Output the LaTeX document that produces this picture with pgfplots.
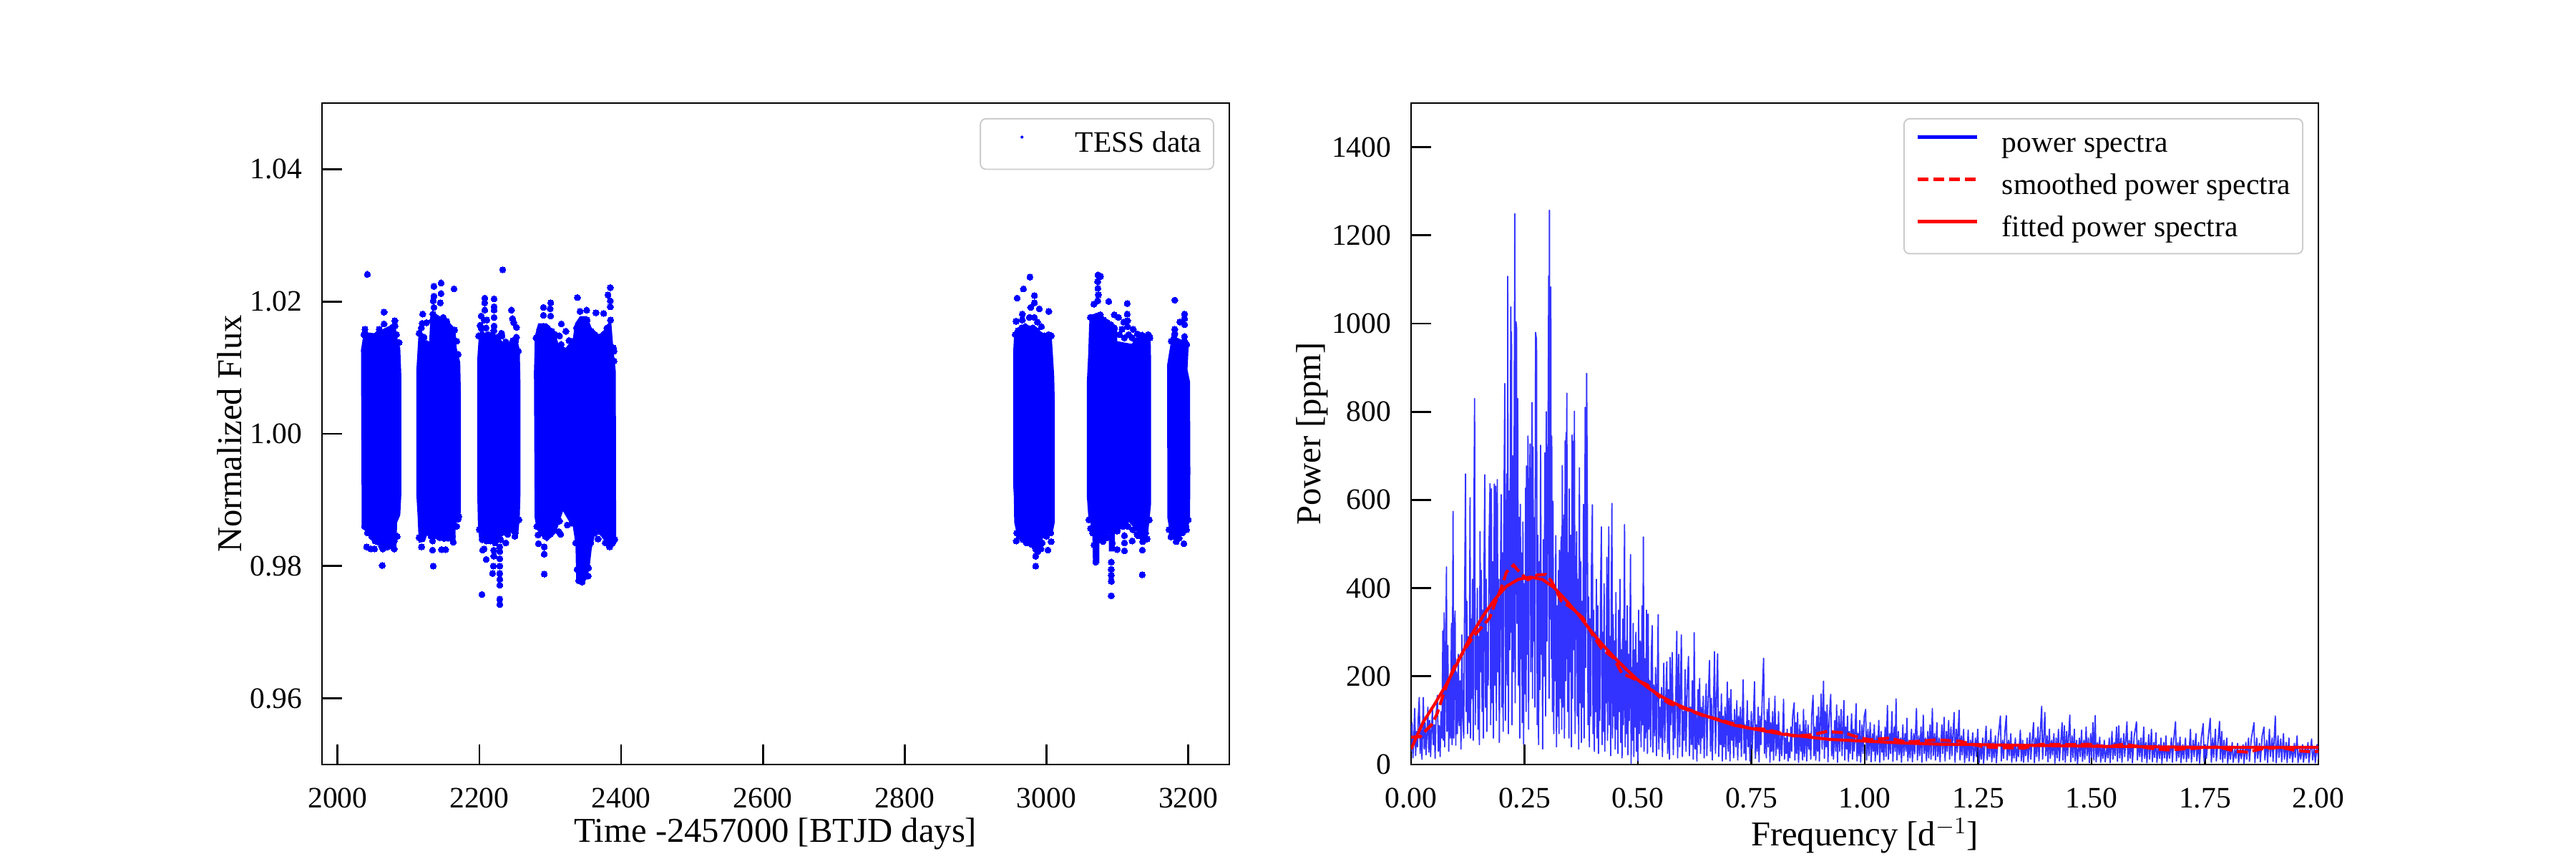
\documentclass[border=0pt]{standalone}
\usepackage{fontspec}
\setmainfont{Liberation Serif}
\usepackage{pgfplots}
\pgfplotsset{compat=1.18}
\definecolor{specblue}{RGB}{51,51,255}
\pgfplotsset{
  panel/.style={
    scale only axis, anchor=south west, width=6.34in, height=4.62in,
    axis line style={line width=0.55pt},
    tick align=inside, xtick pos=bottom, ytick pos=left,
    major tick length=10pt,
    every tick/.style={black, line width=1pt},
    /pgf/number format/assume math mode=true,
    tick label style={font=\fontsize{15}{15}\selectfont},
    x tick label style={yshift=-8.5pt},
    y tick label style={xshift=-6.5pt},
    label style={font=\fontsize{17.6}{20}\selectfont},
    xlabel style={yshift=2.1pt},
    legend cell align=left,
    legend style={anchor=north east, draw=black!20, line width=0.7pt, rounded corners=2.8pt,
      font=\fontsize{15}{15}\selectfont, inner xsep=6pt, inner ysep=6pt,
      column sep=12pt, row sep=7.8pt,
      nodes={inner sep=0pt, text height=10.8pt, text depth=2.7pt}},
    legend image code/.code={\draw[##1] (0pt,3.5pt) -- (30pt,3.5pt);},
  },
  dotlayer/.style={blue, only marks, mark=*, mark size=1.57pt, mark options={fill=blue, draw=blue, line width=0pt}, forget plot},
  body/.style={fill=blue, draw=none, forget plot},
}
\begin{document}
\begin{tikzpicture}
\useasboundingbox (0,0) rectangle (18in,6in);
\begin{axis}[panel, at={(2.25in,0.66in)},
    xmin=1978, xmax=3258, ymin=0.95, ymax=1.05,
    xtick={2000,2200,2400,2600,2800,3000,3200},
    ytick={0.96,0.98,1.00,1.02,1.04},
    xticklabel style={/pgf/number format/1000 sep={}},
    yticklabel style={/pgf/number format/fixed, /pgf/number format/fixed zerofill, /pgf/number format/precision=2},
    xlabel={Time -2457000 [BTJD days]}, ylabel={Normalized Flux}, ylabel shift=-2.5pt,
    legend style={at={(0.9834,0.9773)}},
  ]
% sector blocks, dense part as an outline, stragglers and edge points as dots
\addplot[body] coordinates {(2033,1.0127)(2037,1.0154)(2052,1.0152)(2067,1.0160)(2081,1.0167)(2085,1.0141)(2088.4,1.0130)(2090,1.0086)(2090,0.9910)(2088.4,0.9877)(2084,0.9866)(2083,0.9826)(2066,0.9828)(2052,0.9840)(2040,0.9850)(2034,0.9862)(2033,1.0127)};
\addplot[dotlayer] coordinates {(2042,1.0241)(2065.5,1.0184)(2080.7,1.0171)(2065.5,1.0166)(2058.8,1.0158)(2038.6,1.0158)(2077.3,1.0161)(2086.8,1.0138)(2041,0.9829)(2047,0.9826)(2052,0.9826)(2064,0.9826)(2070.6,0.9829)(2079.7,0.9826)(2052,0.9841)(2063,0.9801)
(2037,1.0150)(2042,1.0148)(2047,1.0146)(2052,1.0142)(2056,1.0150)(2061,1.0152)(2066,1.0149)(2071,1.0154)(2076,1.0156)(2081,1.0163)(2083,1.0150)
(2038,.9860)(2042,.9850)(2048,.9845)(2053,.9838)(2058,.9836)(2062,.9830)(2068,.9832)(2074,.9835)(2080,.9838)(2084,.9845)};
\addplot[body] coordinates {(2111,1.0094)(2113,1.0130)(2114.4,1.0156)(2122,1.0150)(2127,1.0135)(2129,1.0135)(2131,1.0178)(2143,1.0178)(2156.4,1.0171)(2166.5,1.0156)(2168,1.0130)(2173,1.0108)(2174,1.0057)(2174,0.9881)(2166.5,0.9862)(2166.5,0.9840)(2156.4,0.9837)(2143,0.9839)(2133,0.9844)(2126,0.9846)(2123,0.9837)(2114.4,0.9835)(2113,0.9873)(2111,0.9910)(2111,1.0094)};
\addplot[dotlayer] coordinates {(2135.9,1.0223)(2146,1.0228)(2164.2,1.0219)(2135.9,1.0208)(2146,1.0212)(2134.9,1.0201)(2145,1.0198)(2135.9,1.0191)(2120,1.0181)(2119.4,1.0167)(2125.5,1.0168)(2134.6,1.0181)(2164.9,1.0157)(2126,1.0136)(2170,0.9871)(2118.4,0.9829)(2134,0.9838)(2134,0.9824)(2146.7,0.9825)(2152.4,0.9825)(2163.2,0.9836)(2134.9,0.9800)
(2115,1.0152)(2118,1.0160)(2122,1.0146)(2134,1.0172)(2139,1.0176)(2144,1.0173)(2149,1.0176)(2154,1.0170)(2159,1.0160)(2163,1.0157)(2168,1.0140)(2170,1.0120)
(2115,.9843)(2120,.9850)(2126,.9855)(2132,.9845)(2138,.9846)(2144,.9843)(2150,.9842)(2156,.9843)(2162,.9845)(2168,.9860)(2171,.9875)};
\addplot[body] coordinates {(2199,1.0145)(2200,1.0150)(2210,1.0150)(2224,1.0150)(2239,1.0132)(2254,1.0141)(2257,1.0127)(2258,1.0075)(2258,0.9910)(2257,0.9873)(2255,0.9850)(2241,0.9850)(2232,0.9845)(2224,0.9835)(2200,0.9837)(2198,0.9859)(2197,0.9910)(2197,1.0112)(2199,1.0145)};
\addplot[dotlayer] coordinates {(2232.9,1.0248)(2207.6,1.0205)(2207.6,1.0198)(2220.8,1.0204)(2207.6,1.0187)(2220.8,1.0192)(2220.8,1.0187)(2202.6,1.0178)(2207,1.0172)(2220.8,1.0176)(2201.2,1.0164)(2210.3,1.0172)(2202.9,1.0159)(2209.3,1.0160)(2220.8,1.0163)(2245.3,1.0187)(2246.7,1.0174)(2248.4,1.0168)(2252.4,1.0161)(2252.4,1.0146)(2231.2,1.0152)(2247.4,1.0141)(2237.3,1.0139)(2220.4,1.0156)(2204.6,0.9824)(2206.6,0.9826)(2209.7,0.9810)(2219.8,0.9800)(2218.7,0.9789)(2203.6,0.9757)(2228.8,0.9750)(2228.8,0.9742)(2228.8,0.9771)(2228.8,0.9780)(2228.8,0.9789)(2228.8,0.9800)(2228.8,0.9811)(2228.8,0.9822)(2220.4,0.9815)(2220.4,0.9824)(2228.8,0.9829)(2237.3,0.9835)(2237.3,0.9859)(2250.7,0.9850)
(2199,1.0148)(2204,1.0150)(2212,1.0150)(2218,1.0150)(2226,1.0146)(2232,1.0148)(2237,1.0135)(2241,1.0130)(2246,1.0136)(2251,1.0140)(2255,1.0125)
(2200,.9855)(2204,.9840)(2210,.9838)(2216,.9838)(2222,.9835)(2230,.9840)(2240,.9848)(2250,.9845)(2256,.9870)};
\addplot[body] coordinates {(2278,1.0130)(2278,1.0147)(2283,1.0167)(2295,1.0167)(2306,1.0155)(2312,1.0135)(2322,1.0130)(2332,1.0145)(2335,1.0167)(2342,1.0178)(2352,1.0178)(2358.5,1.0160)(2369,1.0150)(2379,1.0160)(2385.4,1.0178)(2389,1.0130)(2392.5,1.0094)(2393,0.9840)(2389,0.9829)(2375,0.9840)(2365,0.9855)(2358.5,0.9826)(2355,0.9793)(2345,0.9773)(2336.6,0.9778)(2335.6,0.9833)(2332,0.9859)(2325,0.9870)(2318,0.9883)(2308,0.9850)(2295,0.9837)(2281,0.9855)(2278,0.9873)(2277,1.0094)(2278,1.0130)};
\addplot[dotlayer] coordinates {(2338.3,1.0206)(2384.7,1.0221)(2381.4,1.0210)(2384.7,1.0201)(2384.7,1.0192)(2300.6,1.0198)(2290.5,1.0191)(2299.9,1.0189)(2290.5,1.0179)(2300.6,1.0178)(2342,1.0185)(2351.4,1.0187)(2364.5,1.0183)(2375.3,1.0182)(2315.7,1.0166)(2322,1.0155)(2313,1.0148)(2315.4,1.0135)(2326.5,1.0141)(2389,1.0130)(2389.8,1.0110)(2282.7,0.9847)(2283.4,0.9834)(2291.5,0.9829)(2291.5,0.9818)(2291.5,0.9788)(2353.4,0.9785)(2354,0.9797)(2383.7,0.9829)(2377.7,0.9835)(2367.5,0.9841)(2314.7,0.9848)(2324,0.9862)(2313,0.9868)(2340,0.9778)(2345,0.9776)
(2280,1.0145)(2285,1.0158)(2290,1.0162)(2296,1.0160)(2302,1.0155)(2307,1.0150)(2333,1.0140)(2337,1.0160)(2342,1.0168)(2347,1.0170)(2352,1.0172)(2358,1.0155)(2363,1.0150)(2369,1.0146)(2375,1.0150)(2380,1.0160)(2385,1.0172)(2390,1.0125)
(2281,.9860)(2287,.9850)(2293,.9845)(2300,.9848)(2306,.9855)(2312,.9852)(2330,.9865)(2336,.9835)(2338,.9795)(2342,.9785)(2347,.9782)(2352,.9800)(2357,.9835)(2363,.9850)(2370,.9852)(2376,.9850)(2382,.9840)(2388,.9835)(2391,.9840)};
\addplot[body] coordinates {(2953,1.0122)(2954.5,1.0154)(2969,1.0165)(2985.5,1.0162)(2995.6,1.0151)(3007,1.0154)(3009,1.0122)(3011,1.0086)(3011.7,1.0050)(3011.7,0.9866)(3009,0.9851)(2997,0.9848)(2989,0.9822)(2980.4,0.9830)(2970,0.9837)(2958.6,0.9846)(2954.5,0.9866)(2954,0.9905)(2953,0.9924)(2953,1.0122)};
\addplot[dotlayer] coordinates {(2976.7,1.0237)(2967.6,1.0219)(2958.6,1.0205)(2983,1.0209)(2983,1.0198)(2977.7,1.0191)(2989.9,1.0189)(3003.3,1.0185)(2966,1.0181)(2966,1.0172)(2957.2,1.0170)(2976,1.0176)(2983,1.0176)(2987.2,1.0169)(2992.9,1.0162)(2957.5,0.9838)(2984.8,0.9800)(2984.8,0.9815)(2992.2,0.9826)(3002,0.9824)(3006.7,0.9837)(2978.7,0.9833)(2972,0.9841)
(2956,1.0150)(2960,1.0156)(2965,1.0160)(2970,1.0162)(2976,1.0158)(2981,1.0160)(2986,1.0156)(2991,1.0150)(2997,1.0148)(3003,1.0150)(3007,1.0148)
(2958,.9850)(2962,.9845)(2967,.9840)(2972,.9835)(2978,.9838)(2983,.9830)(2985,.9825)(2988,.9822)(2994,.9835)(3000,.9845)(3006,.9850)};
\addplot[body] coordinates {(3060,1.0158)(3061,1.0180)(3076,1.0183)(3086.4,1.0169)(3100,1.0158)(3100,1.0140)(3120,1.0136)(3128.5,1.0144)(3147,1.0147)(3147.7,1.0104)(3147.7,0.9895)(3143.6,0.9851)(3133.5,0.9844)(3117,0.9866)(3103,0.9859)(3096.5,0.9851)(3096.5,0.9822)(3088,0.9822)(3088,0.9848)(3074.7,0.9844)(3074.7,0.9804)(3065.6,0.9804)(3064.6,0.9855)(3059,0.9875)(3057,0.9905)(3057,1.0079)(3059,1.0122)(3060,1.0158)};
\addplot[dotlayer] coordinates {(3072.6,1.0240)(3076.3,1.0238)(3072.3,1.0230)(3072.6,1.0220)(3073.3,1.0210)(3072.3,1.0201)(3066.9,1.0196)(3087.8,1.0200)(3114,1.0197)(3114,1.0181)(3095.8,1.0180)(3101.6,1.0176)(3114.4,1.0171)(3109,1.0169)(3114.4,1.0162)(3106.6,1.0158)(3122.4,1.0158)(3128.5,1.0151)(3135.2,1.0149)(3143.6,1.0150)(3126.8,1.0140)(3091.5,0.9755)(3091.5,0.9777)(3091.5,0.9786)(3091.5,0.9795)(3091.5,0.9806)(3135.2,0.9787)(3069.6,0.9806)(3069.6,0.9817)(3067.2,0.9832)(3079.7,0.9837)(3099.9,0.9825)(3110,0.9823)(3110,0.9835)(3110,0.9846)(3121,0.9838)(3135.2,0.9824)(3135.9,0.9837)(3142,0.9841)(3129.2,0.9846)(3099.9,0.9853)(3062.2,0.9857)
(3062,1.0176)(3066,1.0172)(3071,1.0178)(3076,1.0180)(3081,1.0172)(3086,1.0168)(3091,1.0165)(3096,1.0160)(3103,1.0150)(3110,1.0145)(3116,1.0150)(3121,1.0145)(3126,1.0140)(3131,1.0145)(3137,1.0147)(3142,1.0148)(3146,1.0145)
(3060,.9870)(3065,.9850)(3070,.9835)(3075,.9840)(3080,.9845)(3086,.9843)(3093,.9835)(3100,.9855)(3108,.9860)(3115,.9860)(3122,.9855)(3128,.9848)(3134,.9845)(3140,.9850)(3145,.9870)};
\addplot[body] coordinates {(3174.6,1.0133)(3177,1.0142)(3197.5,1.0142)(3200.8,1.0136)(3199,1.0097)(3202.5,1.0079)(3203,0.9942)(3202.5,0.9869)(3197.5,0.9851)(3184,0.9844)(3174,0.9851)(3170.6,0.9873)(3170.2,1.0104)(3174.6,1.0133)};
\addplot[dotlayer] coordinates {(3181,1.0202)(3194.8,1.0181)(3194.8,1.0174)(3188.4,1.0169)(3195,1.0165)(3181,1.0158)(3181,1.0151)(3194.8,1.0147)(3175.6,0.9844)(3183,0.9837)(3193.8,0.9834)(3190.7,0.9850)(3197.5,0.9855)
(3176,1.0140)(3180,1.0145)(3185,1.0140)(3190,1.0138)(3195,1.0140)(3198,1.0135)
(3173,.9855)(3177,.9848)(3182,.9845)(3187,.9842)(3192,.9850)(3197,.9860)(3200,.9870)};
\addlegendimage{legend image code/.code={\path[draw=none] (0pt,0pt) -- (30pt,0pt); \fill[blue, draw=none] (15pt,3.5pt) circle (0.75pt);}}
\addlegendentry{TESS data}
\end{axis}
\begin{axis}[panel, at={(9.86in,0.66in)},
    xmin=0, xmax=2, ymin=0, ymax=1500,
    xtick={0,0.25,0.5,0.75,1,1.25,1.5,1.75,2},
    ytick={0,200,400,600,800,1000,1200,1400},
    xticklabel style={/pgf/number format/fixed, /pgf/number format/fixed zerofill, /pgf/number format/precision=2},
    yticklabel style={/pgf/number format/1000 sep={}},
    xlabel={Frequency [d$^{-1}$]}, ylabel={Power [ppm]}, ylabel shift=-5pt,
    legend style={at={(0.9834,0.9773)}},
  ]
\addplot[specblue, line width=0.65pt, line join=round, forget plot] coordinates {
(0,30)(.002,95)(.004,15)(.006,60)(.008,127)(.010,20)(.012,75)(.014,40)(.016,110)(.018,152)(.020,25)(.022,85)(.024,12)(.027,152)(.029,35)(.031,95)(.033,22)(.035,70)(.037,130)(.039,28)(.041,100)(.043,18)(.045,78)(.047,125)(.049,45)(.051,90)(.053,14)(.055,110)(.058,157)(.060,30)(.062,88)(.064,18)(.066,120)(.068,60)(.070,303)(.071,55)(.073,344)(.074,40)(.076,190)(.078,448)(.079,75)(.081,270)(.083,30)(.085,200)(.087,60)(.089,320)(.0905,45)(.0925,574)(.094,60)(.0955,230)(.097,348)(.0985,44)(.100,210)(.102,70)(.104,250)(.106,88)(.108,190)(.110,35)(.112,294)(.114,100)(.116,60)(.118,380)
(.120,659)(.1215,120)(.123,370)(.1245,70)(.126,290)(.128,95)(.130,605)(.131,60)(.1325,330)(.134,150)(.1355,420)(.137,55)(.1385,560)(.140,830)(.1415,90)(.143,310)(.1445,170)(.146,400)(.1475,80)(.149,290)(.1505,45)(.152,528)(.1535,210)(.155,440)(.1565,120)(.158,350)(.1595,60)(.161,470)(.1625,657)(.164,130)(.1655,420)(.167,75)(.1685,300)(.170,180)(.172,510)(.174,637)(.1755,90)(.177,625)(.1785,140)(.180,460)(.1815,60)(.1835,636)(.185,180)(.1866,631)(.188,100)(.190,646)(.1915,210)(.193,420)(.1945,50)(.1965,370)(.1987,612)(.200,130)(.2015,480)(.203,75)(.2045,560)(.2066,864)(.208,100)(.2095,520)(.211,659)(.212,180)(.213,1107)(.2145,70)(.216,620)(.2175,260)(.2198,1038)(.2205,300)(.2213,981)(.2225,90)(.2245,700)(.226,210)(.2275,840)(.2287,1249)(.2295,140)(.2313,1004)(.2324,991)(.2335,320)(.235,830)(.2365,180)(.238,560)(.2395,60)(.2408,590)(.242,240)(.2435,480)(.245,95)(.2465,550)(.248,46)(.2495,410)(.2510,160)(.2524,627)(.2535,120)(.2545,677)(.256,250)(.2576,745)(.259,80)(.2605,600)(.2624,727)(.264,210)(.2666,821)(.2677,150)(.2687,720)(.270,280)(.272,560)(.273,130)(.2744,980)(.2765,963)(.278,90)(.2795,520)(.281,45)(.2825,460)(.284,170)(.2855,724)(.287,250)(.2885,430)(.290,35)(.2915,510)(.293,200)(.295,707)(.2965,110)(.298,800)(.2995,280)(.3015,640)(.3034,1108)(.3042,150)(.305,1257)(.3065,330)(.308,1083)(.309,240)(.310,745)(.3115,120)(.3128,597)(.3145,70)(.316,400)(.3175,190)(.319,519)(.3205,40)(.322,360)(.3235,110)(.325,440)(.326,70)(.327,486)(.3285,150)(.3307,516)(.332,80)(.3333,678)(.3345,130)(.337,566)(.338,60)(.3396,734)(.3405,190)(.3417,753)(.3425,240)(.3433,842)(.345,120)(.3465,480)(.348,60)(.3486,625)(.350,210)(.352,520)(.3535,40)(.3549,747)(.356,150)(.357,733)(.358,260)(.360,801)(.3615,70)(.363,390)(.3649,528)(.3665,110)(.368,420)(.3695,35)(.371,673)(.3725,140)(.374,460)(.3755,50)(.377,370)(.3785,130)(.380,590)(.3815,60)(.3838,810)(.385,220)(.387,887)(.3885,600)(.390,90)(.3915,380)(.393,40)(.3945,330)(.396,110)(.3975,440)(.3996,589)(.401,70)(.4025,350)(.404,30)(.4055,300)(.407,120)(.4085,420)(.410,60)(.4115,360)(.413,25)(.4145,280)(.416,100)(.4175,390)(.4195,539)(.421,45)(.4225,300)(.424,75)(.4255,410)(.427,30)(.4285,250)(.430,140)(.4315,470)(.433,55)(.4345,330)(.4358,539)(.437,90)(.4385,290)(.440,20)(.4415,410)(.4427,592)(.444,60)(.4455,340)(.447,110)(.4485,280)(.450,35)(.4515,390)(.453,80)(.4545,240)(.456,25)(.4575,350)(.459,120)(.4605,420)(.462,50)(.4635,260)(.465,15)(.4665,330)(.468,90)(.4705,544)(.472,40)(.4735,280)(.475,70)(.4765,360)(.478,22)(.4795,250)(.481,100)(.4837,476)(.485,3)(.4865,220)(.488,55)(.4895,320)(.491,18)(.4925,260)(.494,85)(.4955,300)(.497,30)(.4985,230)(.500,8)(.5015,350)
(.503,70)(.505,280)(.507,40)(.509,360)(.5105,90)(.512,516)(.5135,30)(.515,240)(.517,60)(.519,350)(.521,25)(.5226,341)(.524,80)(.526,190)(.528,40)(.5295,250)(.5316,315)(.533,28)(.535,180)(.537,65)(.539,220)(.541,20)(.5425,160)(.5447,340)(.546,35)(.548,130)(.550,60)(.552,175)(.554,18)(.557,230)(.559,50)(.5615,150)(.5636,233)(.5655,25)(.5675,170)(.5695,12)(.571,243)(.573,90)(.5757,254)(.578,22)(.580,140)(.582,60)(.5857,302)(.5875,15)(.590,250)(.592,40)(.5957,294)(.598,18)(.600,120)(.602,55)(.604,215)(.606,30)(.6085,170)(.6115,245)(.6135,20)(.616,130)(.618,45)(.620,190)(.622,12)(.624,299)(.626,35)(.628,120)(.630,8)(.6325,170)(.634,45)(.636,195)(.638,25)(.640,130)(.642,60)(.644,155)(.646,15)(.648,110)(.6505,183)(.652,20)(.654,120)(.6578,236)(.660,30)(.662,150)(.664,10)(.666,100)(.6688,256)(.671,25)(.673,140)(.6756,251)(.678,18)(.680,120)(.682,45)(.684,160)(.686,8)(.688,110)(.690,40)(.692,130)(.694,12)(.697,187)(.699,30)(.701,150)(.703,8)(.705,170)(.707,55)(.709,100)(.711,15)(.713,125)(.716,40)(.718,145)(.720,10)(.722,110)(.724,50)(.726,130)(.728,18)(.732,192)(.734,25)(.736,90)(.738,10)(.741,145)(.743,40)(.745,100)(.747,8)(.750,120)(.752,35)(.754,85)(.757,188)(.759,14)(.761,90)(.763,30)(.765,130)(.767,6)(.769,110)(.771,45)(.774,150)(.777,241)(.779,25)(.781,100)(.783,15)(.785,125)(.787,40)(.789,150)(.791,5)(.793,95)(.795,30)(.797,120)(.799,10)(.802,155)(.804,20)(.806,90)(.808,35)(.810,120)(.812,8)(.815,70)(.817,20)(.820,100)(.821,148)(.823,12)(.825,60)(.827,25)(.829,80)(.831,8)(.833,50)(.835,15)(.837,85)(.839,30)(.841,110)(.8444,140)(.846,10)(.848,95)(.850,25)(.852,118)(.854,5)(.857,90)(.859,30)(.861,75)(.863,10)(.865,125)(.867,18)(.870,100)(.872,8)(.875,90)(.877,35)(.879,70)(.881,12)(.883,110)(.886,157)(.888,20)(.890,85)(.892,10)(.894,110)(.896,30)(.898,130)(.900,8)(.902,95)(.904,160)(.906,35)(.9091,189)(.911,14)(.913,120)(.915,40)(.917,135)(.919,6)(.921,90)(.925,159)(.927,20)(.929,75)(.931,12)(.934,100)(.936,30)(.938,135)(.940,5)(.943,110)(.945,30)(.948,125)(.950,20)(.954,145)(.956,10)(.958,85)(.960,35)(.962,110)(.964,7)(.966,75)(.968,25)(.971,115)(.973,12)(.975,80)(.977,30)(.981,138)(.983,8)(.985,70)(.987,20)(.989,100)(.991,5)(.994,90)(.996,25)(.999,110)(1.002,125)
(1.004,10)(1.007,80)(1.009,20)(1.012,95)(1.014,6)(1.017,70)(1.019,30)(1.021,90)(1.023,8)(1.026,65)(1.028,22)(1.031,100)(1.033,5)(1.036,75)(1.038,28)(1.040,60)(1.042,10)(1.045,85)(1.047,18)(1.050,134)(1.052,12)(1.055,70)(1.057,25)(1.060,120)(1.062,7)(1.065,85)(1.067,30)(1.069,149)(1.071,10)(1.074,75)(1.076,22)(1.079,60)(1.081,5)(1.084,90)(1.086,20)(1.089,70)(1.091,30)(1.093,105)(1.095,8)(1.098,55)(1.100,15)(1.103,80)(1.105,6)(1.108,70)(1.110,24)(1.114,127)(1.116,10)(1.119,65)(1.121,20)(1.124,85)(1.126,5)(1.129,112)(1.131,25)(1.134,60)(1.136,8)(1.139,75)(1.141,15)(1.144,90)(1.146,12)(1.149,127)(1.151,20)(1.154,70)(1.156,10)(1.159,95)(1.161,18)(1.164,60)(1.166,6)(1.170,90)(1.172,25)(1.175,107)(1.177,8)(1.180,75)(1.182,30)(1.185,100)(1.187,12)(1.190,85)(1.192,20)(1.197,118)(1.199,5)(1.202,80)(1.204,28)(1.208,123)(1.210,10)(1.213,65)(1.215,22)(1.218,80)(1.220,4)(1.223,50)(1.225,15)(1.228,78)(1.230,8)(1.233,55)(1.235,20)(1.238,72)(1.240,6)(1.244,60)(1.246,18)(1.249,80)(1.252,4)(1.255,45)(1.257,12)(1.260,60)(1.262,3)(1.2675,87)(1.270,10)(1.273,55)(1.275,18)(1.278,80)(1.280,6)(1.283,50)(1.285,15)(1.288,65)(1.290,4)(1.294,60)(1.299,110)(1.301,8)(1.304,55)(1.306,14)(1.309,75)(1.312,111)(1.314,10)(1.317,55)(1.319,20)(1.322,70)(1.324,5)(1.327,45)(1.329,15)(1.332,60)(1.334,7)(1.337,40)(1.339,18)(1.343,78)(1.345,8)(1.348,55)(1.350,5)(1.353,45)(1.355,20)(1.358,60)(1.360,6)(1.364,72)(1.366,12)(1.369,55)(1.372,95)(1.374,4)(1.377,60)(1.379,18)(1.382,85)(1.384,8)(1.387,75)(1.390,132)(1.392,12)(1.395,70)(1.397,118)(1.399,20)(1.402,65)(1.404,6)(1.407,80)(1.409,14)(1.412,55)(1.414,22)(1.417,70)(1.419,3)(1.422,60)(1.424,15)(1.427,80)(1.429,8)(1.432,50)(1.435,95)(1.437,10)(1.440,88)(1.442,5)(1.445,75)(1.447,20)(1.452,112)(1.454,6)(1.457,65)(1.459,16)(1.462,80)(1.464,8)(1.467,55)(1.469,2)(1.473,60)(1.475,18)(1.478,78)(1.480,7)(1.483,55)(1.485,12)(1.488,85)(1.490,20)(1.493,60)(1.495,4)(1.498,70)
(1.500,16)(1.503,95)(1.505,10)(1.508,111)(1.510,6)(1.513,50)(1.515,18)(1.518,62)(1.520,5)(1.523,45)(1.525,14)(1.528,55)(1.530,6)(1.534,40)(1.536,15)(1.539,60)(1.541,4)(1.545,75)(1.547,12)(1.550,50)(1.552,20)(1.555,85)(1.557,7)(1.560,88)(1.562,15)(1.565,60)(1.567,5)(1.571,70)(1.573,18)(1.578,97)(1.580,8)(1.583,55)(1.585,14)(1.588,75)(1.590,4)(1.594,65)(1.599,97)(1.601,10)(1.604,55)(1.606,18)(1.609,60)(1.611,6)(1.615,85)(1.617,14)(1.620,50)(1.622,4)(1.626,68)(1.628,12)(1.632,80)(1.634,6)(1.637,50)(1.639,16)(1.642,72)(1.644,5)(1.648,45)(1.650,14)(1.653,60)(1.655,3)(1.659,50)(1.661,15)(1.664,65)(1.666,7)(1.670,42)(1.672,14)(1.676,60)(1.678,5)(1.681,55)(1.685,97)(1.687,8)(1.690,50)(1.692,16)(1.695,62)(1.697,4)(1.701,45)(1.703,13)(1.707,60)(1.709,6)(1.712,42)(1.714,14)(1.718,80)(1.720,5)(1.724,55)(1.726,18)(1.730,70)(1.732,8)(1.736,50)(1.738,3)(1.742,62)(1.746,93)(1.748,7)(1.751,45)(1.753,14)(1.757,60)(1.7615,105)(1.764,5)(1.767,60)(1.769,16)(1.773,80)(1.775,8)(1.779,55)(1.782,98)(1.784,12)(1.787,75)(1.789,5)(1.792,55)(1.794,14)(1.798,60)(1.800,3)(1.804,42)(1.806,12)(1.810,50)(1.812,5)(1.816,35)(1.818,14)(1.822,48)(1.824,4)(1.828,38)(1.830,13)(1.834,45)(1.836,3)(1.840,50)(1.842,12)(1.846,60)(1.848,7)(1.852,58)(1.858,95)(1.860,4)(1.864,60)(1.866,14)(1.870,48)(1.872,6)(1.876,65)(1.880,85)(1.882,10)(1.886,55)(1.888,4)(1.892,80)(1.894,18)(1.898,60)(1.900,7)(1.905,110)(1.907,4)(1.911,65)(1.913,16)(1.917,58)(1.919,6)(1.923,70)(1.925,12)(1.929,50)(1.931,4)(1.935,60)(1.937,14)(1.941,40)(1.943,5)(1.947,48)(1.949,16)(1.953,65)(1.955,4)(1.959,35)(1.961,12)(1.965,45)(1.967,5)(1.971,40)(1.973,14)(1.977,50)(1.979,4)(1.985,58)(1.987,10)(1.991,38)(1.993,4)(1.997,45)(2.000,12)
};
% smoothed spectrum
\addplot[red, line width=1.5pt, dash pattern=on 5.55pt off 2.4pt, forget plot] coordinates {
(0,62)(.02,63)(.0315,76)(.047,92)(.058,117)(.068,149)(.079,181)(.095,222)(.116,257)(.137,290)(.158,314)(.1735,333)(.184,363)(.2,404)(.21,436)(.226,452)(.241,434)(.2576,419)(.2787,430)(.297,431)(.31,415)(.331,371)(.3575,352)(.3785,333)(.3996,295)(.42,263)(.447,241)(.465,206)(.484,198)(.52,181)(.549,152)(.57,138)(.607,125)(.6436,111)(.675,103)(.712,92)(.743,83)(.78,80)(.8434,65)(.88,67)(.917,75)(.954,72)(.985,62)(1.012,56)(1.054,60)(1.09,51)(1.122,53)(1.159,56)(1.19,54)(1.209,53)(1.258,41)(1.28,39)(1.35,37)(1.39,46)(1.455,45)(1.494,46)(1.532,40)(1.571,46)(1.642,35)(1.669,33)(1.713,36)(1.779,40)(1.817,30)(1.845,28)(1.872,35)(1.916,39)(1.954,31)(1.987,29)(2,30)};
% fitted spectrum
\addplot[red, line width=1.5pt, line join=round, forget plot] coordinates {
(0,35)(.026,95)(.0526,138)(.079,184)(.105,236)(.131,290)(.158,336)(.184,374)(.21,404)(.2366,420)(.263,425)(.289,420)(.3155,401)(.342,372)(.368,341)(.394,306)(.42,274)(.447,244)(.473,217)(.4995,192)(.528,170)(.554,153)(.58,139)(.607,127)(.633,116)(.659,107)(.712,89)(.764,79)(.817,69)(.87,63)(.922,57)(1.0,53)(1.08,49)(1.164,46)(1.25,45)(1.5,41.5)(1.75,39)(2,39)};
\addlegendimage{blue, line width=1.5pt}
\addlegendentry{power spectra}
\addlegendimage{red, line width=1.5pt, dash pattern=on 5.55pt off 2.4pt}
\addlegendentry{smoothed power spectra}
\addlegendimage{red, line width=1.5pt}
\addlegendentry{fitted power spectra}
\end{axis}
\end{tikzpicture}
\end{document}
